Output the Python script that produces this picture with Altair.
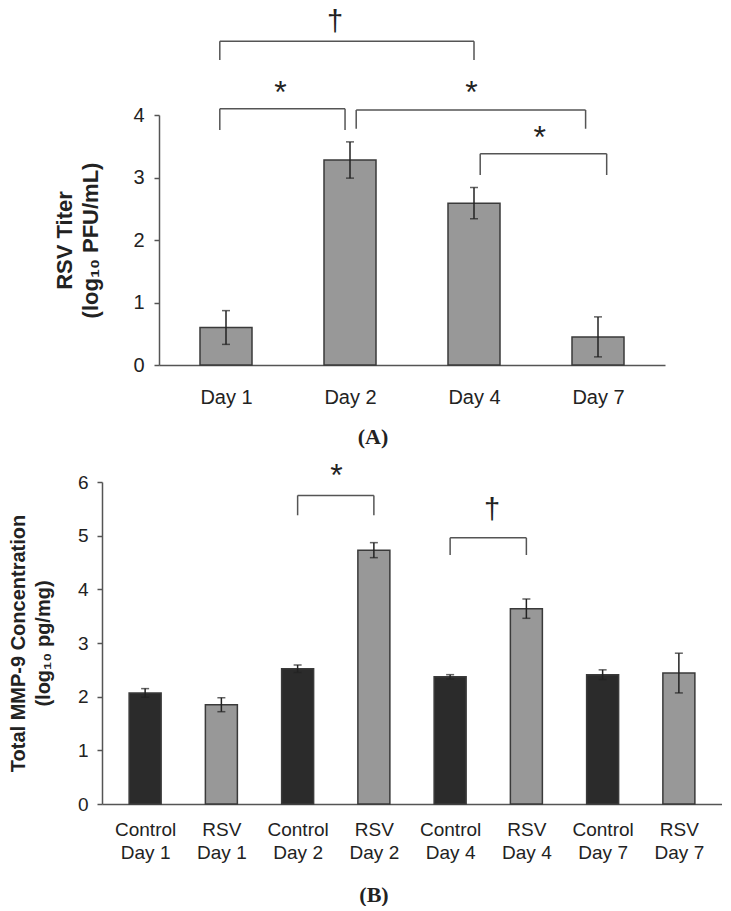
import json
import altair as alt
import pandas as pd

# ---------------- Panel A : RSV titer ----------------
a_days = ["Day 1", "Day 2", "Day 4", "Day 7"]
a_titer = [0.60, 3.28, 2.59, 0.45]
a_err = [0.27, 0.29, 0.25, 0.32]

# significance brackets (x in category-index units, y in data units)
a_br_x1 = [-0.05, -0.05, 1.05, 2.05]
a_br_x2 = [2.00, 0.96, 2.90, 3.07]
a_br_top = [5.18, 4.10, 4.08, 3.38]
a_br_leg = [4.88, 3.76, 3.78, 3.04]
a_sym = ["†", "*", "*", "*"]
a_sym_x = [0.88, 0.44, 1.98, 2.53]
a_sym_y = [5.50, 4.42, 4.42, 3.70]

# ---------------- Panel B : MMP-9 ----------------
b_groups = ["Control", "RSV", "Control", "RSV", "Control", "RSV", "Control", "RSV"]
b_days = ["Day 1", "Day 1", "Day 2", "Day 2", "Day 4", "Day 4", "Day 7", "Day 7"]
b_mmp9 = [2.07, 1.85, 2.52, 4.73, 2.37, 3.64, 2.41, 2.44]
b_err = [0.08, 0.13, 0.07, 0.14, 0.04, 0.18, 0.09, 0.37]

b_br_x1 = [2.0, 4.0]
b_br_x2 = [3.0, 5.0]
b_br_top = [5.75, 4.96]
b_br_leg = [5.38, 4.64]
b_sym = ["*", "†"]
b_sym_x = [2.51, 4.55]
b_sym_y = [6.18, 5.49]

FONT = "Liberation Sans"
AXIS_C = "#555555"
TXT_C = "#222222"

df_a = pd.DataFrame({"i": list(range(len(a_days))), "day": a_days, "v": a_titer, "e": a_err})
df_a["lo"] = df_a["v"] - df_a["e"]
df_a["hi"] = df_a["v"] + df_a["e"]
df_abr = pd.DataFrame({"x1": a_br_x1, "x2": a_br_x2, "top": a_br_top, "leg": a_br_leg})
df_asym = pd.DataFrame({"s": a_sym, "x": a_sym_x, "y": a_sym_y})

df_b = pd.DataFrame({"i": list(range(len(b_groups))), "group": b_groups, "day": b_days,
                     "v": b_mmp9, "e": b_err})
df_b["lo"] = df_b["v"] - df_b["e"]
df_b["hi"] = df_b["v"] + df_b["e"]
df_bbr = pd.DataFrame({"x1": b_br_x1, "x2": b_br_x2, "top": b_br_top, "leg": b_br_leg})
df_bsym = pd.DataFrame({"s": b_sym, "x": b_sym_x, "y": b_sym_y})


def panel(df, dbr, dsym, n, ymax, yvals, xlabel_expr, ytitle, bar_size, color_enc,
          w, h, xlab_size, xlab_pad, ylab_size, ylab_pad, ytitle_size, ytitle_lh,
          ytitle_pad, lab_lh, letter, letter_offset, letter_dx):
    xs = alt.Scale(domain=[-0.5, n - 0.5], nice=False, zero=False)
    ys = alt.Scale(domain=[0, ymax], nice=False, zero=True)
    xaxis = alt.Axis(values=list(range(n)), labelExpr=xlabel_expr, title=None, ticks=False,
                     grid=False, domainColor=AXIS_C, domainWidth=1.5, labelFont=FONT,
                     labelFontSize=xlab_size, labelPadding=xlab_pad, labelFlush=False,
                     labelOverlap=False, labelColor=TXT_C, labelLineHeight=lab_lh)
    yaxis = alt.Axis(values=yvals, title=ytitle, grid=False, domainColor=AXIS_C,
                     domainWidth=1.5, tickColor=AXIS_C, tickWidth=1.5, tickSize=5,
                     labelFont=FONT, labelFontSize=ylab_size, labelPadding=ylab_pad,
                     labelColor=TXT_C, titleFont=FONT, titleFontSize=ytitle_size,
                     titleFontWeight="bold", titleColor=TXT_C, titleLineHeight=ytitle_lh,
                     titlePadding=ytitle_pad)
    base = alt.Chart(df)
    bars = base.mark_bar(orient="vertical", size=bar_size, stroke="#3a3a3a",
                         strokeWidth=1.5).encode(
        x=alt.X("i:Q", scale=xs, axis=xaxis),
        y=alt.Y("v:Q", scale=ys, axis=yaxis),
        color=color_enc,
    )
    err = base.mark_rule(color="#222222", strokeWidth=1.5).encode(
        x=alt.X("i:Q", scale=xs, axis=xaxis),
        y=alt.Y("lo:Q", scale=ys, axis=yaxis), y2="hi:Q")
    cap_lo = base.mark_tick(orient="horizontal", size=8, thickness=1.5, color="#222222").encode(
        x=alt.X("i:Q", scale=xs, axis=xaxis), y=alt.Y("lo:Q", scale=ys, axis=yaxis))
    cap_hi = base.mark_tick(orient="horizontal", size=8, thickness=1.5, color="#222222").encode(
        x=alt.X("i:Q", scale=xs, axis=xaxis), y=alt.Y("hi:Q", scale=ys, axis=yaxis))
    bc = alt.Chart(dbr)
    br_h = bc.mark_rule(color="#555555", strokeWidth=1.5).encode(
        x=alt.X("x1:Q", scale=xs, axis=xaxis), x2="x2:Q",
        y=alt.Y("top:Q", scale=ys, axis=yaxis))
    br_l = bc.mark_rule(color="#555555", strokeWidth=1.5).encode(
        x=alt.X("x1:Q", scale=xs, axis=xaxis),
        y=alt.Y("top:Q", scale=ys, axis=yaxis), y2="leg:Q")
    br_r = bc.mark_rule(color="#555555", strokeWidth=1.5).encode(
        x=alt.X("x2:Q", scale=xs, axis=xaxis),
        y=alt.Y("top:Q", scale=ys, axis=yaxis), y2="leg:Q")
    sc = alt.Chart(dsym)
    stars = sc.transform_filter("datum.s == '*'").mark_text(
        font=FONT, fontSize=32, baseline="middle", dy=4, color=TXT_C).encode(
        x=alt.X("x:Q", scale=xs, axis=xaxis), y=alt.Y("y:Q", scale=ys, axis=yaxis), text="s:N")
    daggers = sc.transform_filter("datum.s != '*'").mark_text(
        font=FONT, fontSize=29, baseline="middle", dy=1, color=TXT_C).encode(
        x=alt.X("x:Q", scale=xs, axis=xaxis), y=alt.Y("y:Q", scale=ys, axis=yaxis), text="s:N")
    return alt.layer(bars, err, cap_lo, cap_hi, br_h, br_l, br_r, stars, daggers).properties(
        width=w, height=h,
        title=alt.TitleParams(letter, orient="bottom", anchor="middle", font="Liberation Serif",
                              fontSize=22, fontWeight="bold", color=TXT_C,
                              offset=letter_offset, dx=letter_dx))


a_expr = json.dumps(a_days) + "[datum.value]"
b_expr = json.dumps([[g, d] for g, d in zip(b_groups, b_days)]) + "[datum.value]"

chart_a = panel(df_a, df_abr, df_asym, len(a_days), 4, [0, 1, 2, 3, 4], a_expr,
                ["RSV Titer", "(log₁₀ PFU/mL)"], 52, alt.value("#989898"),
                506, 250, 20, 22, 20, 10, 22, 26, 30, 22, "(A)", 20, -39)
chart_b = panel(df_b, df_bbr, df_bsym, len(b_groups), 6, [0, 1, 2, 3, 4, 5, 6], b_expr,
                ["Total MMP-9 Concentration", "(log₁₀ pg/mg)"], 32,
                alt.Color("group:N", scale=alt.Scale(domain=["Control", "RSV"],
                                                     range=["#2b2b2b", "#989898"]), legend=None),
                620, 322, 19, 16, 19, 9, 20, 25, 24, 23, "(B)", 23, -38)

chart = alt.vconcat(chart_a, chart_b, spacing=12, center=True).properties(
    padding={"left": 0, "top": 0, "right": 0, "bottom": 0}
).configure_view(stroke=None)

chart.save("out.html", embed_options={"renderer": "svg", "actions": False})
